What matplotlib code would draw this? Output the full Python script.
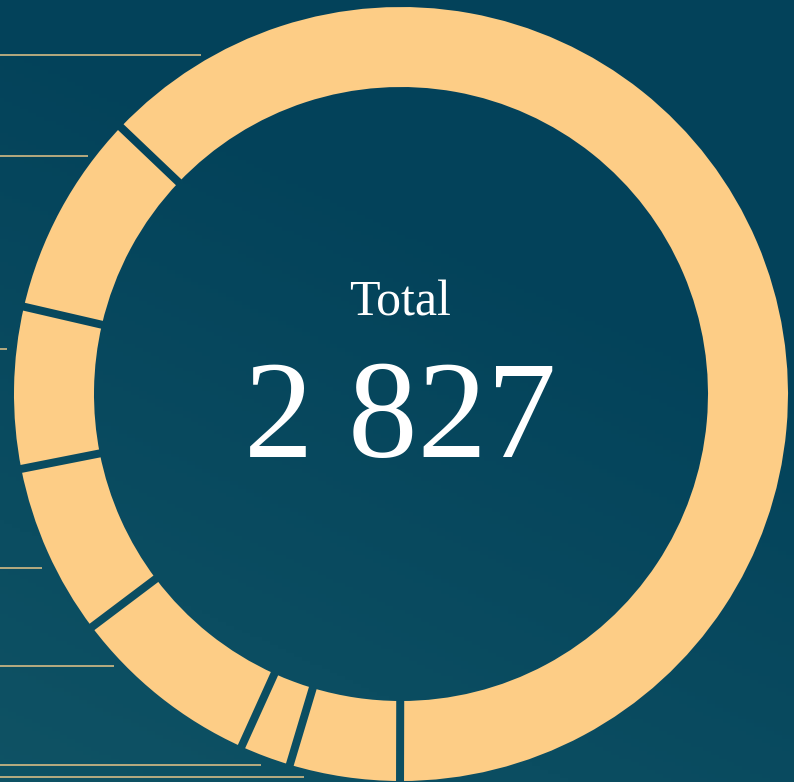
import numpy as np
import matplotlib
matplotlib.use("Agg")
import matplotlib.pyplot as plt
from matplotlib.colors import LinearSegmentedColormap
from matplotlib.path import Path
from matplotlib.patches import PathPatch

# ---- data ----
segment_values = [1779, 130, 60, 225, 203, 190, 240]   # clockwise from upper-left gap
total_label = "Total"
total_value = "2 827"

# leader lines on the left edge (y from top, x end) in pixels
leader_y = [55, 156, 349, 568, 666, 765, 777]
leader_x_end = [201, 88, 7, 42, 114, 261, 304]

W, H = 794, 782
BG_TOP = "#03425a"
BG_LOW = "#135868"
RING = "#fdcd86"
LINE = "#e6c588"

fig = plt.figure(figsize=(W / 100, H / 100), dpi=100)
ax = fig.add_axes([0, 0, 1, 1])


def draw_bg(clip=None, z=0):
    yy, xx = np.mgrid[0:1:200j, 0:1:200j]
    g = np.clip((1 - yy) * 0.75 + (1 - xx) * 0.35 - 0.35, 0, 1)  # row0 = bottom
    cmap = LinearSegmentedColormap.from_list("bg", [BG_TOP, BG_LOW])
    im = ax.imshow(g, cmap=cmap, extent=[0, W, 0, H], origin="lower",
                   aspect="auto", zorder=z, vmin=0, vmax=1)
    if clip is not None:
        im.set_clip_path(clip)
    return im


draw_bg()

# donut
cx, cy = 401, H - 394
outer_r = 387
ring_w = 80
start = 136.4
ax.pie(segment_values, center=(cx, cy), radius=outer_r,
       startangle=start, counterclock=False, colors=[RING] * len(segment_values),
       wedgeprops=dict(width=ring_w, linewidth=0), frame=True)
ax.set_xlim(0, W)
ax.set_ylim(0, H)
ax.set_aspect("auto")
ax.axis("off")

# constant-width gaps between segments, showing the background through them
gap_px = 8
total = float(sum(segment_values))
bounds = start - 360.0 * np.cumsum([0] + segment_values[:-1]) / total
paths = []
for a in np.deg2rad(bounds):
    d = np.array([np.cos(a), np.sin(a)])
    n = np.array([-d[1], d[0]]) * gap_px / 2
    r0, r1 = outer_r - ring_w - 4, outer_r + 4
    p0 = np.array([cx, cy]) + d * r0
    p1 = np.array([cx, cy]) + d * r1
    verts = [p0 - n, p1 - n, p1 + n, p0 + n, p0 - n]
    paths.append(Path(verts, [Path.MOVETO, Path.LINETO, Path.LINETO, Path.LINETO, Path.CLOSEPOLY]))
gap_path = Path.make_compound_path(*paths)
clip_patch = PathPatch(gap_path, transform=ax.transData, facecolor="none", edgecolor="none")
ax.add_patch(clip_patch)
draw_bg(clip=clip_patch, z=2.5)
ax.set_xlim(0, W)
ax.set_ylim(0, H)

# leader lines
for y, xe in zip(leader_y, leader_x_end):
    ax.plot([0, xe], [H - y, H - y], color=LINE, lw=1.1, solid_capstyle="butt", zorder=3)

# centre text
ax.text(400, H - 315, total_label, ha="center", va="baseline", color="white",
        fontsize=36, family="Liberation Serif", zorder=4)
ax.text(400, H - 457, total_value, ha="center", va="baseline", color="white",
        fontsize=100, family="Liberation Serif", zorder=4)

fig.savefig("out.png", dpi=100, facecolor=BG_TOP)
